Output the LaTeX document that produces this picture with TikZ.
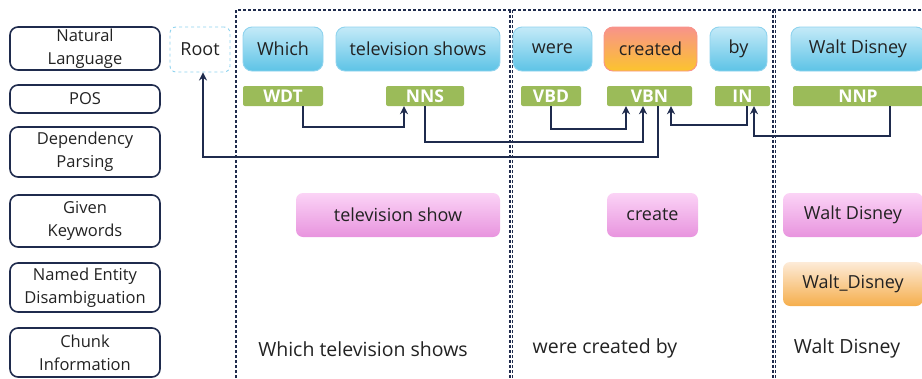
\documentclass[tikz,border=0pt]{standalone}
\usepackage{fontspec}
\setmainfont{Open Sans}
\usetikzlibrary{arrows.meta}
\definecolor{navy}{HTML}{1F2B4D}
\definecolor{bluetop}{HTML}{C4EAF8}
\definecolor{bluebot}{HTML}{5DC3E6}
\definecolor{blueline}{HTML}{8FD3EE}
\definecolor{greenfill}{HTML}{9BBB59}
\definecolor{pinktop}{HTML}{FBD3F6}
\definecolor{pinkbot}{HTML}{E894DE}
\definecolor{redtop}{HTML}{F8938A}
\definecolor{redbot}{HTML}{FBC42E}
\definecolor{oratop}{HTML}{FDEBD8}
\definecolor{orabot}{HTML}{F5AE4C}
\definecolor{textc}{HTML}{222222}
\tikzset{
  rowlabel/.style={draw=navy, line width=1.6pt, rounded corners=8pt, minimum width=150pt, align=center, font=\fontsize{16.5}{23}\selectfont, text=textc, inner sep=0pt},
  rootbox/.style={draw=blueline, dashed, line width=0.9pt, rounded corners=6pt, minimum width=60pt, minimum height=45pt, font=\fontsize{18}{20}\selectfont, text=textc},
  wordbox/.style={draw=blueline, line width=0.9pt, rounded corners=9pt, top color=bluetop, bottom color=bluebot, minimum height=44pt, font=\fontsize{18}{20}\selectfont, text=textc, inner sep=0pt},
  headbox/.style={wordbox, draw=redtop, top color=redtop, bottom color=redbot},
  posbox/.style={fill=greenfill, rounded corners=2pt, minimum height=20pt, font=\bfseries\fontsize{17.5}{18}\selectfont, text=white, inner sep=0pt},
  keybox/.style={rounded corners=7pt, top color=pinktop, bottom color=pinkbot, minimum height=44pt, font=\fontsize{18}{20}\selectfont, text=textc, inner sep=0pt},
  nedbox/.style={keybox, top color=oratop, bottom color=orabot},
  chunk/.style={font=\fontsize{19.5}{21}\selectfont, text=textc, inner sep=0pt},
  conn/.style={draw=navy, line width=2.4pt, -{Stealth[length=8pt,width=8pt]}},
  frame/.style={draw=navy, line width=1.5pt, dash pattern=on 3pt off 2pt},
}
\begin{document}
\begin{tikzpicture}[x=1pt,y=-1pt]
\useasboundingbox (0,0) rectangle (922,378);
% row labels
\node[rowlabel, minimum height=43pt] (lNL) at (85,48.5) {Natural\\Language};
\node[rowlabel, minimum height=28pt] (lPOS) at (85,99) {POS};
\node[rowlabel, minimum height=50pt] (lDP) at (85,152) {Dependency\\Parsing};
\node[rowlabel, minimum height=52pt] (lGK) at (85,221) {Given\\Keywords};
\node[rowlabel, minimum height=49pt] (lNED) at (85,287.5) {Named Entity\\Disambiguation};
\node[rowlabel, minimum height=49pt] (lCI) at (85,352.5) {Chunk\\Information};
% dashed frames
\coordinate (f0) at (236,10);
\coordinate (f0b) at (236,378);
\coordinate (fr) at (922,10);
\coordinate (f1) at (510,10);
\coordinate (f1b) at (510,378);
\coordinate (f2) at (512.5,10);
\coordinate (f2b) at (512.5,378);
\coordinate (f3) at (773,10);
\coordinate (f3b) at (773,378);
\coordinate (f4) at (775.5,10);
\coordinate (f4b) at (775.5,378);
\draw[frame] (f0b) -- (f0) -- (fr);
\draw[frame] (f1) -- (f1b);
\draw[frame] (f2) -- (f2b);
\draw[frame] (f3) -- (f3b);
\draw[frame] (f4) -- (f4b);
% root
\node[rootbox] (root) at (200,49.5) {Root};
% words
\node[wordbox, minimum width=80pt] (wWhich) at (283,49) {Which};
\node[wordbox, minimum width=164pt] (wTV) at (418,49) {television shows};
\node[wordbox, minimum width=79pt] (wWere) at (552.5,49) {were};
\node[headbox, minimum width=93pt] (wCreated) at (650.5,49) {created};
\node[wordbox, minimum width=57pt] (wBy) at (738.5,49) {by};
\node[wordbox, minimum width=134pt] (wWD) at (858,49) {Walt Disney};
% POS
\node[posbox, minimum width=80pt] (WDT) at (283,96) {WDT};
\node[posbox, minimum width=78pt] (NNS) at (425,96) {NNS};
\node[posbox, minimum width=60pt] (VBD) at (551,96) {VBD};
\node[posbox, minimum width=85pt] (VBN) at (649.5,96) {VBN};
\node[posbox, minimum width=55pt] (IN) at (742.5,96) {IN};
\node[posbox, minimum width=130pt] (NNP) at (858,96) {NNP};
% dependency connectors
\draw[conn] ([xshift=20pt]WDT.south) -- ++(0,21) -| ([xshift=-21pt]NNS.south);
\draw[conn] (VBD.south) -- ++(0,23) -| ([xshift=-23.5pt]VBN.south);
\draw[conn] (NNS.south) -- ++(0,36) -| ([xshift=-6.5pt]VBN.south);
\draw[conn] ([xshift=8.5pt]VBN.south) -- ++(0,51) -| ([xshift=3pt]root.south);
\draw[conn] ([xshift=4.5pt]IN.south) -- ++(0,19) -| ([xshift=21.5pt]VBN.south);
\draw[conn] ([xshift=32pt]NNP.south) -- ++(0,30) -| ([xshift=11.5pt]IN.south);
% keywords
\node[keybox, minimum width=204pt] (kTV) at (398,215) {television show};
\node[keybox, minimum width=91pt] (kCreate) at (652.5,215) {create};
\node[keybox, minimum width=140pt] (kWD) at (853,215) {Walt Disney};
\node[nedbox, minimum width=140pt] (nWD) at (853,284) {Walt\_Disney};
% chunks
\node[chunk] (c1) at (363,349) {Which television shows};
\node[chunk] (c2) at (605,348) {were created by};
\node[chunk] (c3) at (847,348) {Walt Disney};
\end{tikzpicture}
\end{document}
